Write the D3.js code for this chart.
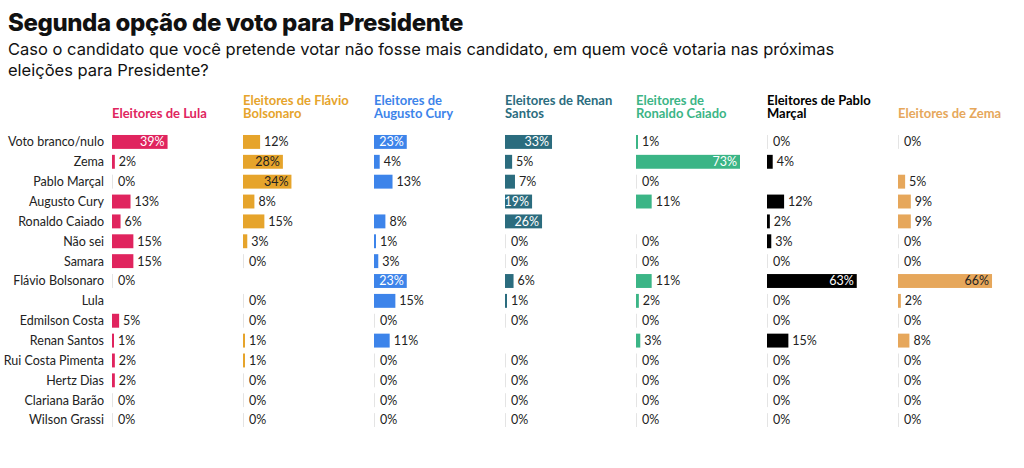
<!DOCTYPE html>
<html><head><meta charset="utf-8">
<script src="https://cdn.jsdelivr.net/npm/d3@7"></script>
<style>
body{margin:0;background:#fff;}
</style></head><body>
<script>
const categories = ["Voto branco/nulo","Zema","Pablo Marçal","Augusto Cury","Ronaldo Caiado","Não sei","Samara","Flávio Bolsonaro","Lula","Edmilson Costa","Renan Santos","Rui Costa Pimenta","Hertz Dias","Clariana Barão","Wilson Grassi"];
const groups = [["Eleitores de Lula"],["Eleitores de Flávio","Bolsonaro"],["Eleitores de","Augusto Cury"],["Eleitores de Renan","Santos"],["Eleitores de","Ronaldo Caiado"],["Eleitores de Pablo","Marçal"],["Eleitores de Zema"]];
const colors = ["#e0245e","#e6a42b","#3d84ea","#2b6c7e","#3bb586","#000000","#e6a75b"];
const lulaVals   = [39,2,0,13,6,15,15,0,null,5,1,2,2,0,0];
const flavioVals = [12,28,34,8,15,3,0,null,0,0,1,1,0,0,0];
const curyVals   = [23,4,13,null,8,1,3,23,15,0,11,0,0,0,0];
const renanVals  = [33,5,7,19,26,0,0,6,1,0,null,0,0,0,0];
const caiadoVals = [1,73,0,11,null,0,0,11,2,0,3,0,0,0,0];
const pabloVals  = [0,4,null,12,2,3,0,63,0,0,15,0,0,0,0];
const zemaVals   = [0,null,5,9,9,0,0,66,2,0,8,0,0,0,0];
const series = [lulaVals,flavioVals,curyVals,renanVals,caiadoVals,pabloVals,zemaVals];
const darkInside = [false,true,false,false,false,false,true];

const W=1024,H=468;
const svg=d3.select("body").append("svg").attr("width",W).attr("height",H);
svg.append("text").attr("x",8).attr("y",31).attr("font-family","Inter").attr("font-weight",800)
  .attr("font-size",24).attr("fill","#111").attr("letter-spacing","-0.4").text("Segunda opção de voto para Presidente");
svg.append("text").attr("x",8).attr("y",55).attr("font-family","Inter").attr("font-size",16.5).attr("fill","#111")
  .text("Caso o candidato que você pretende votar não fosse mais candidato, em quem você votaria nas próximas");
svg.append("text").attr("x",8).attr("y",76).attr("font-family","Inter").attr("font-size",16.5).attr("fill","#111")
  .text("eleições para Presidente?");

const colX=d3.scaleBand().domain(d3.range(groups.length)).range([112,1029]);
const y=d3.scaleBand().domain(categories).range([132,430]).paddingInner(0.3).paddingOuter(0.15);
const x=d3.scaleLinear().domain([0,73]).range([0,104]);

svg.append("g").selectAll("text").data(categories).join("text")
  .attr("x",104).attr("y",d=>y(d)+y.bandwidth()/2).attr("dy","0.35em").attr("text-anchor","end")
  .attr("font-family","Lato").attr("font-size",12.5).attr("fill","#222").text(d=>d);

groups.forEach((g,gi)=>{
  const gx=colX(gi), col=colors[gi];
  const ht=svg.append("text").attr("font-family","Lato").attr("font-weight",700).attr("font-size",13).attr("fill",col);
  g.forEach((line,li)=>ht.append("tspan").attr("x",gx).attr("y",118-(g.length-1-li)*13.5).text(line));
  series[gi].forEach((v,ri)=>{
    if(v===null) return;
    const yy=y(categories[ri]), bh=y.bandwidth();
    if(v===0){
      svg.append("line").attr("x1",gx+0.5).attr("x2",gx+0.5).attr("y1",yy).attr("y2",yy+bh).attr("stroke","#e4e4e4");
    } else {
      svg.append("rect").attr("x",gx).attr("y",yy).attr("width",Math.max(2,x(v))).attr("height",bh).attr("fill",col);
    }
    const inside=v>=19;
    svg.append("text").attr("font-family","Lato").attr("font-size",12.5)
      .attr("x",inside?gx+x(v)-3:gx+Math.max(2,x(v))+4)
      .attr("y",yy+bh/2).attr("dy","0.35em").attr("text-anchor",inside?"end":"start")
      .attr("fill",inside?(darkInside[gi]?"#222":"#fff"):"#222").text(v+"%");
  });
});
</script></body></html>
